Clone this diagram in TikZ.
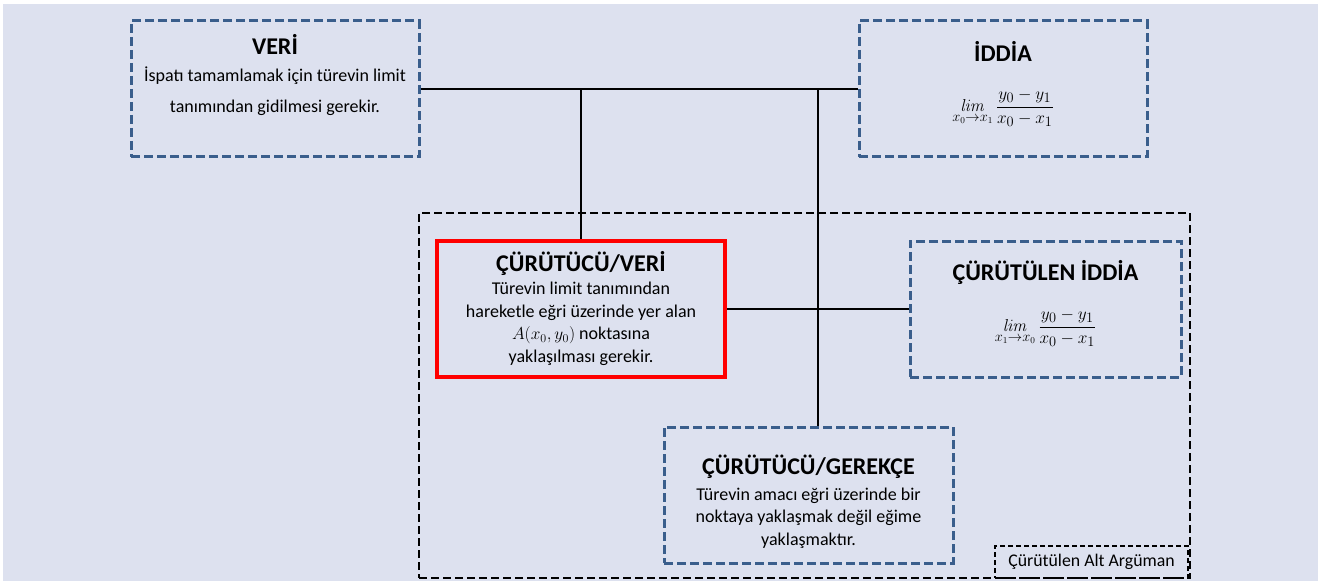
\documentclass[tikz,border=0pt]{standalone}
\usepackage{amsmath}
\usepackage[no-math]{fontspec}
\setmainfont{Carlito}
\definecolor{bgcol}{RGB}{221,225,239}
\definecolor{dashblue}{RGB}{58,94,140}
\definecolor{claimred}{RGB}{255,0,0}
\tikzset{
  bluebox/.style={draw=dashblue, line width=3pt, dash pattern=on 9pt off 4pt,
    minimum width=288pt, minimum height=136pt, inner sep=0pt},
  redbox/.style={draw=claimred, line width=4pt,
    minimum width=288pt, minimum height=136pt, inner sep=0pt},
  subarg/.style={draw=black, line width=2.5pt, dash pattern=on 8pt off 4pt,
    minimum width=771pt, minimum height=365pt, inner sep=0pt},
  tagbox/.style={draw=black, line width=1.3pt, dash pattern=on 5pt off 3pt,
    minimum width=193pt, minimum height=32pt, inner sep=0pt,
    font=\fontsize{17.8}{20}\selectfont},
  heading/.style={font=\fontsize{24}{28}\selectfont\bfseries, inner sep=0pt},
  body/.style={font=\fontsize{18}{22.5}\selectfont, align=center, inner sep=0pt},
  formula/.style={font=\fontsize{19}{22}\selectfont, inner sep=0pt},
  link/.style={draw=black, line width=1.2pt}
}
\begin{document}
\begin{tikzpicture}[x=1pt,y=-1pt]
\useasboundingbox (0,0) rectangle (1318,583);
\fill[bgcol] (3,4) rectangle (1318,581);

% sub-argument frame and its tag
\node[subarg] (sub) at (804.5,395.5) {};
\node[tagbox] (tag) at (1091.5,562) {Çürütülen Alt Argüman};

% boxes
\node[bluebox] (veri) at (275,89) {};
\node[bluebox] (iddia) at (1003,89) {};
\node[redbox] (cveri) at (581,309) {};
\node[bluebox, minimum width=271pt] (ciddia) at (1045.5,309) {};
\node[bluebox, minimum width=289pt] (gerekce) at (808.5,495) {};

% texts
\node[heading] (veri-t) at (275,44) {VERİ};
\node[body, font=\fontsize{18}{31}\selectfont] (veri-b) at (275,91)
  {İspatı tamamlamak için türevin limit\\tanımından gidilmesi gerekir.};

\node[heading] (iddia-t) at (1003,51) {İDDİA};
\node[formula] (iddia-f) at (1003,108)
  {$\displaystyle\mathop{\mathit{lim}}\limits_{x_0\to x_1}\frac{y_0-y_1}{x_0-x_1}$};

\node[heading] (cveri-t) at (581,263) {ÇÜRÜTÜCÜ/VERİ};
\node[body] (cveri-b) at (581,324)
  {Türevin limit tanımından\\hareketle eğri üzerinde yer alan\\$A(x_0,y_0)$ noktasına\\yaklaşılması gerekir.};

\node[heading] (ciddia-t) at (1045.5,272) {ÇÜRÜTÜLEN İDDİA};
\node[formula] (ciddia-f) at (1045.5,328)
  {$\displaystyle\mathop{\mathit{lim}}\limits_{x_1\to x_0}\frac{y_0-y_1}{x_0-x_1}$};

\node[heading] (gerekce-t) at (808.5,467) {ÇÜRÜTÜCÜ/GEREKÇE};
\node[body] (gerekce-b) at (808.5,518)
  {Türevin amacı eğri üzerinde bir\\noktaya yaklaşmak değil eğime\\yaklaşmaktır.};

% connectors
\coordinate (j2) at (818,89);
\draw[link] (veri.east) -- (iddia.west);
\draw[link] (cveri.north) -- (cveri.north |- veri.east);
\draw[link] (j2) -- (j2 |- gerekce.north);
\draw[link] (cveri.east) -- (ciddia.west);
\end{tikzpicture}
\end{document}
